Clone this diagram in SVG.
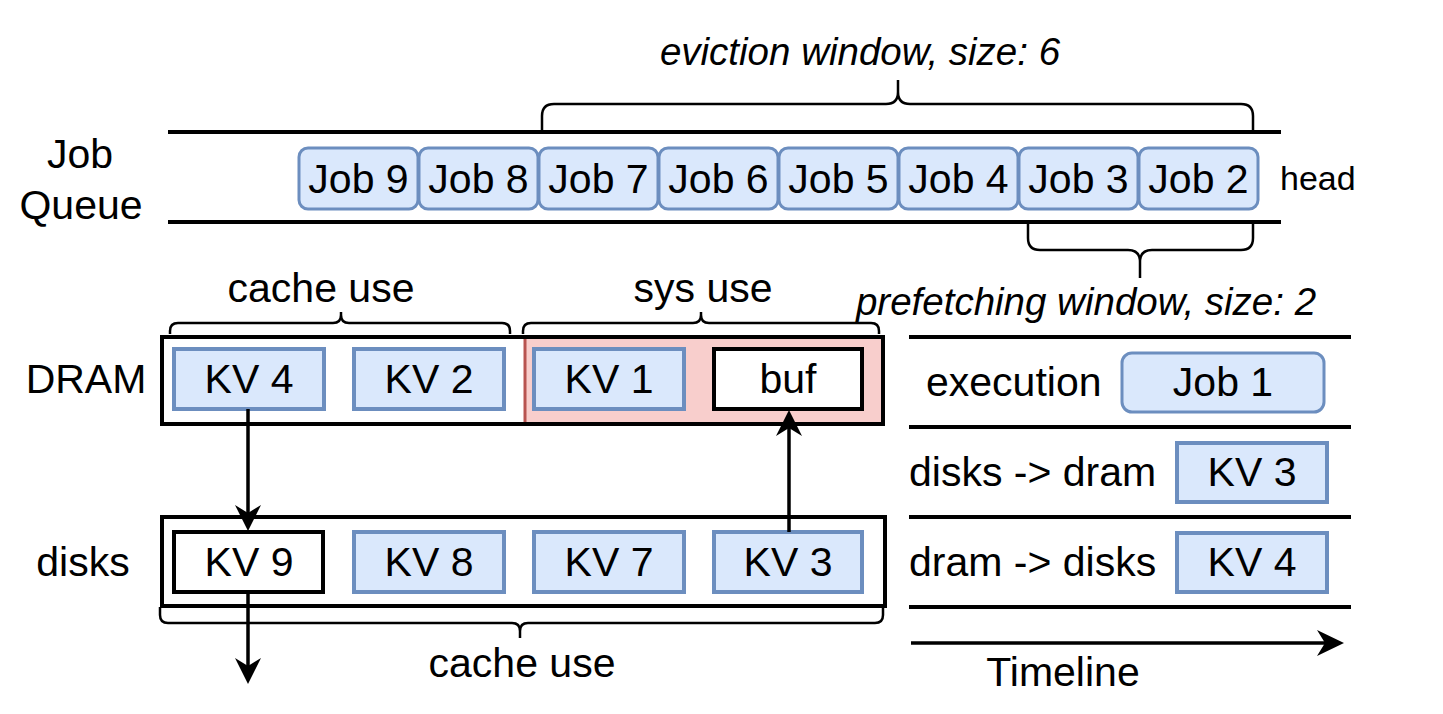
<svg xmlns="http://www.w3.org/2000/svg" width="1443" height="714" viewBox="0 0 1443 714">
<style>
text{font-family:"Liberation Sans",Arial,sans-serif;font-size:41px;fill:#000}
.c{text-anchor:middle}
.it{font-style:italic;font-size:38.5px}
.job{fill:#dae8fc;stroke:#6c8ebf;stroke-width:3}
.kv{fill:#dae8fc;stroke:#6c8ebf;stroke-width:4}
.wb{fill:#fff;stroke:#000;stroke-width:4}
.rule{stroke:#000;stroke-width:4;fill:none}
.brace{stroke:#000;stroke-width:2.5;fill:none}
.arr{stroke:#000;stroke-width:3.5;fill:none}
.head{fill:#000;stroke:none}
</style>
<rect width="1443" height="714" fill="#fff"/>

<g id="job-queue-label"><text class="c" x="80" y="168">Job</text><text class="c" x="81" y="219">Queue</text></g>
<g id="queue-lines"><line class="rule" x1="168" y1="132" x2="1281" y2="132"/><line class="rule" x1="168" y1="222" x2="1281" y2="222"/></g>

<g id="eviction-window">
<path class="brace" d="M542,131 V116 Q542,104 554,104 H886 Q898,104 898,92 V80 M898,92 Q898,104 910,104 H1241 Q1253,104 1253,116 V131"/>
<text class="c it" x="860" y="65">eviction window, size: 6</text>
</g>

<g id="job9"><rect class="job" x="299" y="148" width="119" height="61" rx="9"/><text class="c" x="358.5" y="193">Job 9</text></g>
<g id="job8"><rect class="job" x="419" y="148" width="119" height="61" rx="9"/><text class="c" x="478.5" y="193">Job 8</text></g>
<g id="job7"><rect class="job" x="539" y="148" width="119" height="61" rx="9"/><text class="c" x="598.5" y="193">Job 7</text></g>
<g id="job6"><rect class="job" x="659" y="148" width="119" height="61" rx="9"/><text class="c" x="718.5" y="193">Job 6</text></g>
<g id="job5"><rect class="job" x="779" y="148" width="119" height="61" rx="9"/><text class="c" x="838.5" y="193">Job 5</text></g>
<g id="job4"><rect class="job" x="899" y="148" width="119" height="61" rx="9"/><text class="c" x="958.5" y="193">Job 4</text></g>
<g id="job3"><rect class="job" x="1019" y="148" width="119" height="61" rx="9"/><text class="c" x="1078.5" y="193">Job 3</text></g>
<g id="job2"><rect class="job" x="1139" y="148" width="119" height="61" rx="9"/><text class="c" x="1198.5" y="193">Job 2</text></g>
<g id="head-label"><text x="1280" y="190" style="font-size:34px">head</text></g>

<g id="prefetching-window">
<path class="brace" d="M1028,222 V238 Q1028,250 1040,250 H1128 Q1140,250 1140,262 V278 M1140,262 Q1140,250 1152,250 H1241 Q1253,250 1253,238 V222"/>
<text class="c it" x="1086" y="315">prefetching window, size: 2</text>
</g>

<g id="cache-use-top">
<path class="brace" d="M170,334 V331 Q170,323 178,323 H333 Q341,323 341,315 V312 M341,315 Q341,323 349,323 H502 Q510,323 510,331 V334"/>
<text class="c" x="321" y="302">cache use</text>
</g>
<g id="sys-use">
<path class="brace" d="M523,334 V331 Q523,323 531,323 H693 Q701,323 701,315 V312 M701,315 Q701,323 709,323 H871 Q879,323 879,331 V334"/>
<text class="c" x="703" y="302">sys use</text>
</g>

<g id="dram">
<text class="c" x="86" y="393">DRAM</text>
<rect x="525" y="338" width="358" height="85" fill="#f8cecc"/>
<line x1="525" y1="338" x2="525" y2="423" stroke="#b85450" stroke-width="3"/>
<rect x="162" y="337" width="721" height="87" fill="none" stroke="#000" stroke-width="4"/>
</g>
<g id="kv4-dram"><rect class="kv" x="174" y="349" width="150" height="60"/><text class="c" x="249" y="393">KV 4</text></g>
<g id="kv2-dram"><rect class="kv" x="354" y="349" width="150" height="60"/><text class="c" x="429" y="393">KV 2</text></g>
<g id="kv1-dram"><rect class="kv" x="534" y="349" width="150" height="60"/><text class="c" x="609" y="393">KV 1</text></g>
<g id="buf"><rect class="wb" x="714" y="349" width="148" height="60"/><text class="c" x="788" y="393">buf</text></g>

<g id="disks">
<text class="c" x="83" y="576">disks</text>
<rect x="162" y="517" width="723" height="89" fill="none" stroke="#000" stroke-width="4"/>
</g>
<g id="kv9-disks"><rect class="wb" x="174" y="532" width="149" height="60"/><text class="c" x="249" y="576">KV 9</text></g>
<g id="kv8-disks"><rect class="kv" x="354" y="532" width="150" height="60"/><text class="c" x="429" y="576">KV 8</text></g>
<g id="kv7-disks"><rect class="kv" x="534" y="532" width="150" height="60"/><text class="c" x="609" y="576">KV 7</text></g>
<g id="kv3-disks"><rect class="kv" x="714" y="532" width="148" height="60"/><text class="c" x="788" y="576">KV 3</text></g>

<g id="cache-use-bottom">
<path class="brace" d="M160,607 V615 Q160,623 168,623 H512 Q520,623 520,631 V638 M520,631 Q520,623 528,623 H875 Q883,623 883,615 V607"/>
<text class="c" x="522" y="677">cache use</text>
</g>

<g id="timeline-rows">
<line class="rule" x1="909" y1="337" x2="1351" y2="337"/>
<line class="rule" x1="909" y1="427" x2="1351" y2="427"/>
<line class="rule" x1="909" y1="517" x2="1351" y2="517"/>
<line class="rule" x1="909" y1="607" x2="1351" y2="607"/>
</g>
<g id="execution"><text x="926" y="396">execution</text></g>
<g id="job1"><rect class="job" x="1122" y="353" width="202" height="59" rx="10"/><text class="c" x="1223" y="396">Job 1</text></g>
<g id="disks-to-dram"><text x="909" y="486">disks -&gt; dram</text></g>
<g id="kv3-transfer"><rect class="kv" x="1177" y="443" width="150" height="59"/><text class="c" x="1252" y="486">KV 3</text></g>
<g id="dram-to-disks"><text x="909" y="576">dram -&gt; disks</text></g>
<g id="kv4-transfer"><rect class="kv" x="1177" y="533" width="150" height="59"/><text class="c" x="1252" y="576">KV 4</text></g>
<g id="timeline"><text class="c" x="1063" y="686">Timeline</text></g>

<g id="connectors">
<line class="arr" x1="248" y1="409" x2="248" y2="515"/>
<path class="head" d="M248,531 L235,505 L248,513 L261,505 Z"/>
<line class="arr" x1="789" y1="532" x2="789" y2="426"/>
<path class="head" d="M789,410 L776,436 L789,428 L802,436 Z"/>
<line class="arr" x1="248" y1="592" x2="248" y2="668"/>
<path class="head" d="M248,684 L235,658 L248,666 L261,658 Z"/>
<line class="arr" x1="911" y1="643" x2="1327" y2="643"/>
<path class="head" d="M1344,643 L1317,630 L1325,643 L1317,656 Z"/>
</g>
</svg>
